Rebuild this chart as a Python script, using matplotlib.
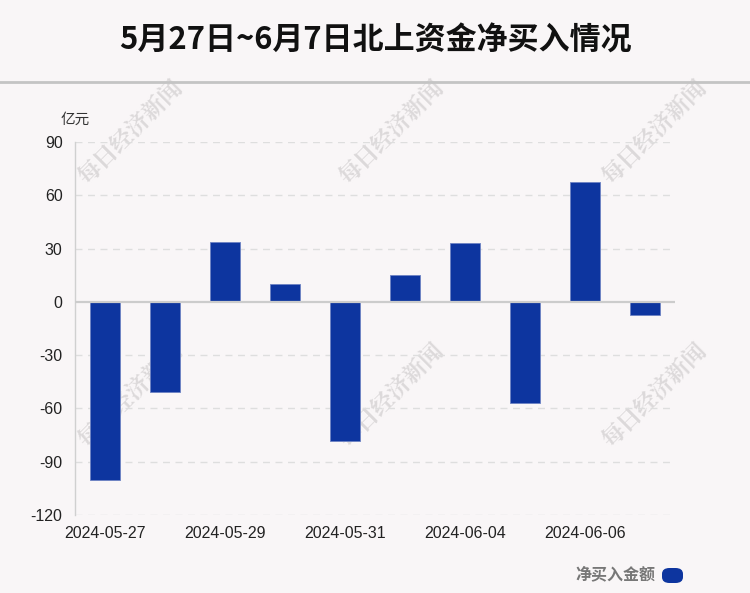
import matplotlib.pyplot as plt
from matplotlib.patches import FancyBboxPatch
from matplotlib.lines import Line2D

plt.rcParams['font.family'] = ['Liberation Sans', 'Noto Sans CJK SC', 'DejaVu Sans']

# 北上资金每日净买入（亿元）
dates = ['2024-05-27', '2024-05-28', '2024-05-29', '2024-05-30', '2024-05-31',
         '2024-06-03', '2024-06-04', '2024-06-05', '2024-06-06', '2024-06-07']
values = [-100.2, -50.7, 33.8, 10.3, -78.3, 15.3, 33.3, -56.9, 67.6, -7.3]
yticks = [90, 60, 30, 0, -30, -60, -90, -120]

bg = '#f9f6f7'
bar_color = '#0d359f'

fig = plt.figure(figsize=(7.5, 5.93), dpi=100, facecolor=bg)
ax = fig.add_axes([0.1, 0.1315, 0.8, 0.629])
ax.set_facecolor(bg)

x = list(range(len(dates)))
ax.bar(x, values, width=0.5, color=bar_color, edgecolor='#6d83c4', linewidth=0.6, zorder=3)

ax.set_xlim(-0.5, len(dates) - 0.5)
ax.set_ylim(-120, 90)
ax.set_yticks(yticks)
ax.set_yticklabels([str(v) for v in yticks])
ax.set_xticks(x[::2])
ax.set_xticklabels(dates[::2])
ax.tick_params(axis='both', length=0, labelsize=11.5, colors='#222222')
ax.tick_params(axis='y', pad=9)
ax.tick_params(axis='x', pad=8)

for s in ['top', 'right', 'bottom']:
    ax.spines[s].set_visible(False)
ax.spines['left'].set_color('#d0d0d0')
ax.spines['left'].set_linewidth(1)

for v in yticks:
    if v != 0:
        ax.axhline(v, color='#dedede', lw=1, ls=(0, (5, 4)), zorder=1)
ax.axhline(0, color='#cccccc', lw=1.6, zorder=4, xmax=1.003)

ax.text(0.0, 1.059, '亿元', transform=ax.transAxes, fontsize=10.5,
        color='#333333', ha='center', va='center', family=['Noto Sans CJK SC'])

# 标题与分隔线
fig.text(0.5, 0.932, '5月27日~6月7日北上资金净买入情况', ha='center', va='center',
         fontsize=22.3, fontweight='bold', color='#111111', family=['Noto Sans CJK SC'])
fig.add_artist(Line2D([0, 1], [1 - 82 / 593, 1 - 82 / 593], color='#c4c4c4', lw=2,
                      transform=fig.transFigure))

# 水印（位于柱子下方）
for wx in [131, 392, 655]:
    for wy in [132, 395]:
        ax.text(wx / 750, 1 - wy / 593, '每日经济新闻', ha='center', va='center',
                rotation=45, fontsize=16.5, fontweight='heavy', color='#dcd9da',
                family=['Noto Serif CJK SC', 'Noto Sans CJK SC'],
                transform=fig.transFigure, zorder=0, clip_on=False)

# 图例
fig.text(655 / 750, 1 - 574 / 593, '净买入金额', ha='right', va='center', fontsize=11.5,
         fontweight='bold', color='#777777', family=['Noto Sans CJK SC'])
fig.patches.append(FancyBboxPatch((662 / 750, 1 - 583 / 593), 21 / 750, 15 / 593,
                                  boxstyle='round,pad=0,rounding_size=0.01',
                                  transform=fig.transFigure, facecolor=bar_color,
                                  edgecolor='none'))

fig.savefig('out.png', dpi=100, facecolor=bg)
